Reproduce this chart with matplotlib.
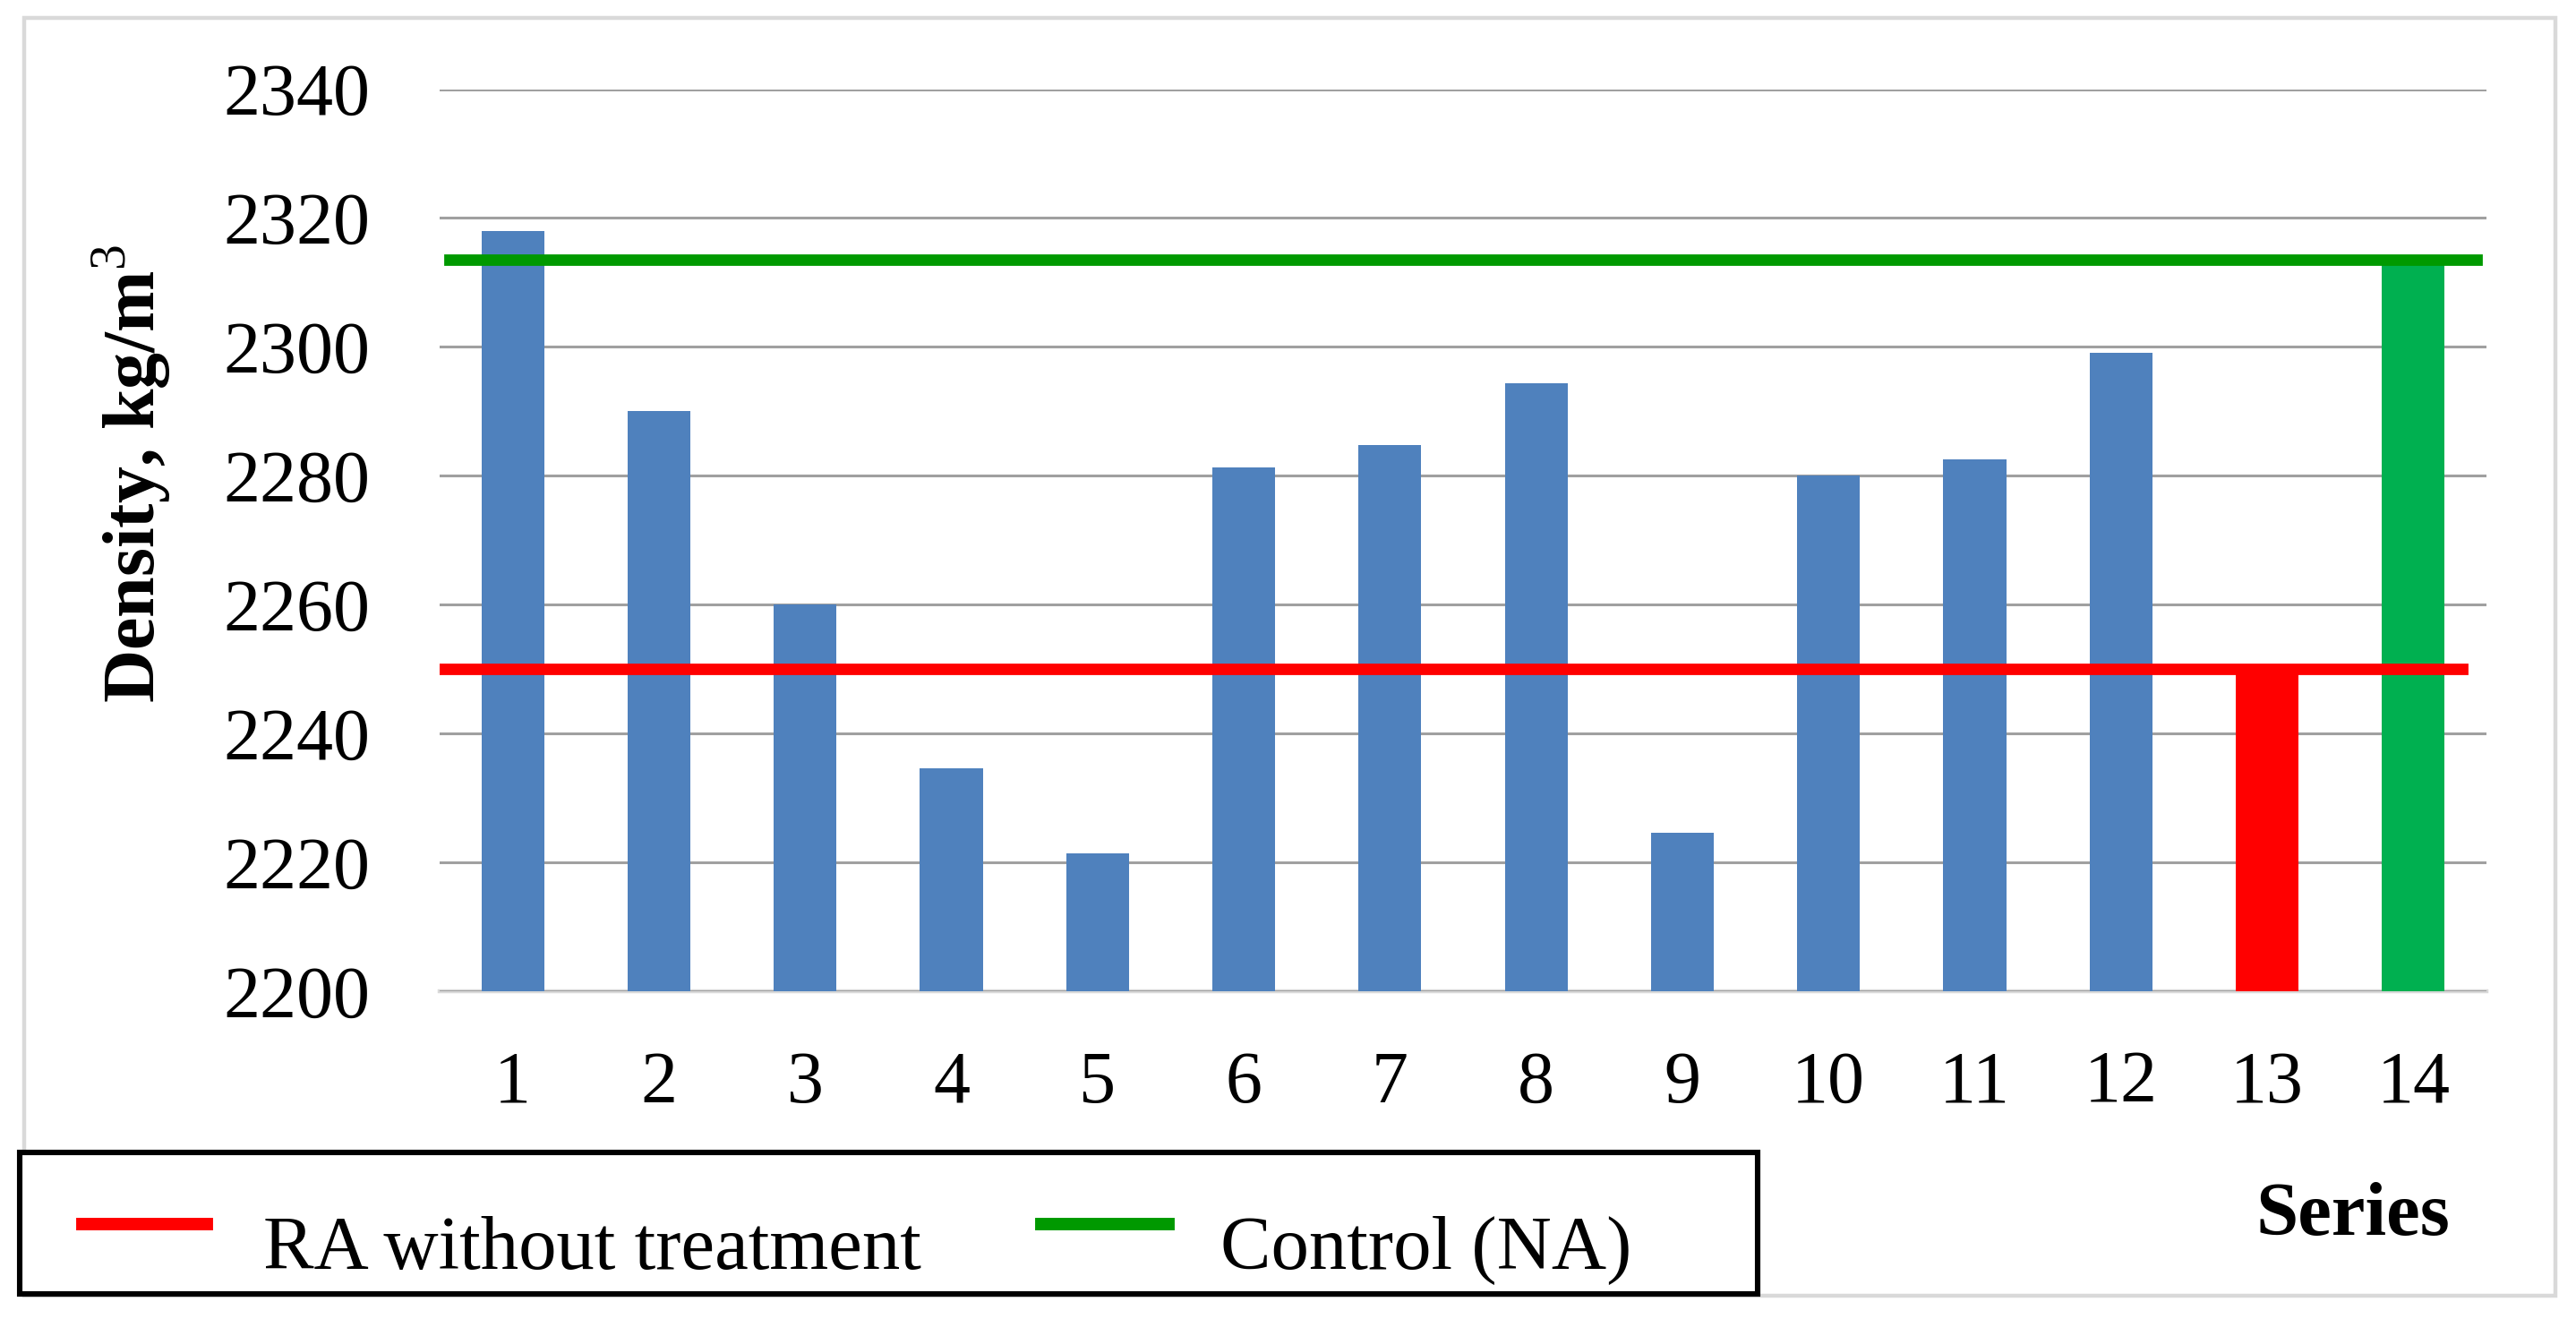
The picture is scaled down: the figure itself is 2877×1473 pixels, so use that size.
import matplotlib.pyplot as plt
from matplotlib.patches import Rectangle
from matplotlib.lines import Line2D
import numpy as np

plt.rcParams['font.family'] = ['Liberation Serif', 'DejaVu Serif']
plt.rcParams['mathtext.fontset'] = 'custom'
plt.rcParams['mathtext.rm'] = 'Liberation Serif'
plt.rcParams['mathtext.bf'] = 'Liberation Serif:bold'

# data
series = [str(i) for i in range(1, 15)]
density = [2318.0, 2290.0, 2260.0, 2234.5, 2221.3, 2281.2, 2284.8,
           2294.3, 2224.6, 2280.0, 2282.5, 2299.0, 2250.0, 2313.5]
bar_colors = ["#4f81bd"] * 12 + ["#ff0000", "#00b050"]
ra_level = 2250.0
control_level = 2313.5
y_ticks = [2200, 2220, 2240, 2260, 2280, 2300, 2320, 2340]

W, H, DPI = 2877, 1473, 200
fig = plt.figure(figsize=(W / DPI, H / DPI), dpi=DPI)
ax = fig.add_axes([491 / W, 1 - 1106.6 / H, (2777 - 491) / W, (1106.6 - 99.5) / H])

x = np.arange(len(series))
ax.bar(x, np.array(density) - 2200, bottom=2200, width=0.43, color=bar_colors, zorder=2)

ax.axhline(ra_level, xmin=0.0, xmax=0.988, color="#ff0000", lw=4.6, zorder=3)
ax.axhline(control_level, xmin=0.005, xmax=0.995, color="#009900", lw=4.6, zorder=3)

ax.set_xlim(-0.5, len(series) - 0.5)
ax.set_ylim(2200, 2340)
ax.set_yticks(y_ticks)
ax.set_xticks(x)
ax.set_xticklabels(series)
ax.tick_params(axis="both", length=0, labelsize=29.5)
ax.tick_params(axis="y", pad=28)
ax.tick_params(axis="x", pad=24)
ax.yaxis.grid(True, color="#a0a0a0", lw=1.1, zorder=0)
for s in ["top", "right", "left"]:
    ax.spines[s].set_visible(False)
ax.spines["bottom"].set_color("#d9d9d9")
ax.spines["bottom"].set_linewidth(1.6)
ax.spines["bottom"].set_zorder(1)

fig.text(146 / W, 1 - 529 / H, "Density, kg/m$^\\mathrm{3}$", rotation=90, ha="center", va="center",
         fontsize=29.5, fontweight="bold")
fig.text(2628 / W, 1 - 1358 / H, "Series", ha="center", va="center", fontsize=30.5, fontweight="bold")

# outer frame
fig.patches.append(Rectangle((27 / W, 1 - 1447 / H), (2854 - 27) / W, (1447 - 20) / H,
                             transform=fig.transFigure, fill=False, edgecolor="#d9d9d9", lw=1.6))

# legend box
fig.patches.append(Rectangle((22 / W, 1 - 1445 / H), (1963 - 22) / W, (1445 - 1287) / H,
                             transform=fig.transFigure, fill=True, facecolor="white",
                             edgecolor="black", lw=2.2, zorder=5))
ly = 1 - 1367 / H
fig.lines.append(Line2D([92 / W, 231 / W], [ly, ly], transform=fig.transFigure,
                        color="#ff0000", lw=5, zorder=6))
fig.lines.append(Line2D([1163 / W, 1305 / W], [ly, ly], transform=fig.transFigure,
                        color="#009900", lw=5, zorder=6))
fig.text(294 / W, 1 - 1396 / H, "RA without treatment", ha="left", va="center", fontsize=30.5, zorder=6)
fig.text(1363 / W, 1 - 1396 / H, "Control (NA)", ha="left", va="center", fontsize=30.5, zorder=6)

fig.savefig("out.png", dpi=DPI)
